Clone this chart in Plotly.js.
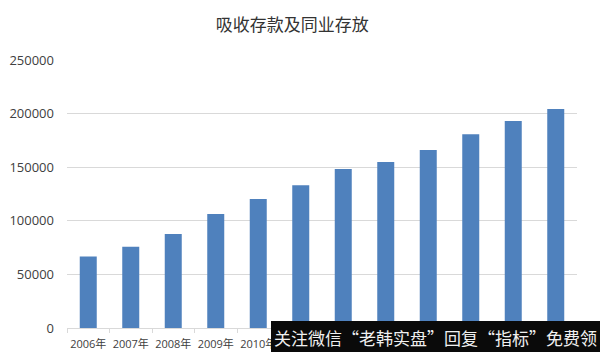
<!DOCTYPE html>
<html>
<head>
<meta charset="utf-8">
<script src="https://cdn.plot.ly/plotly-3.0.1.min.js"></script>
<style>html,body{margin:0;padding:0;background:#fff;}#chart{width:600px;height:352px;}</style>
</head>
<body>
<div id="chart"></div>
<script>
const years = ["2006年","2007年","2008年","2009年","2010年","2011年","2012年","2013年","2014年","2015年","2016年","2017年"];
const deposits = [66600, 75800, 87700, 106300, 120300, 133100, 148300, 154900, 166000, 180700, 193100, 204300];
const yTicks = [0, 50000, 100000, 150000, 200000, 250000];
const titleText = "吸收存款及同业存放";
const watermarkText = "关注微信“老韩实盘”回复“指标”免费领";

const trace = {
  type: "bar",
  x: years,
  y: deposits,
  marker: {color: "#4f81bd"},
  hoverinfo: "x+y"
};

const layout = {
  width: 600, height: 352,
  margin: {l: 67, r: 23, t: 60, b: 24},
  paper_bgcolor: "#ffffff",
  plot_bgcolor: "#ffffff",
  showlegend: false,
  bargap: 0.6,
  title: {
    text: titleText,
    font: {family: "Noto Sans CJK SC", size: 17, color: "#333333"},
    xref: "container", x: 0.487, xanchor: "center",
    yref: "container", y: 0.929, yanchor: "middle"
  },
  xaxis: {
    type: "category",
    automargin: false,
    showgrid: false,
    showline: true, linecolor: "#d9d9d9", linewidth: 1,
    ticks: "outside", tickson: "boundaries", ticklen: 4, tickcolor: "#d9d9d9",
    tickangle: 0,
    ticklabelstandoff: 6,
    tickfont: {family: "Open Sans, Noto Sans CJK SC", size: 11, color: "#404040"}
  },
  yaxis: {
    range: [0, 250000],
    automargin: false,
    tickvals: yTicks,
    ticktext: yTicks.map(String),
    showgrid: true, gridcolor: "#d9d9d9", gridwidth: 1,
    zeroline: false, showline: false, ticks: "",
    ticklabelstandoff: 12,
    tickfont: {family: "Open Sans, Liberation Sans", size: 13, color: "#404040"}
  },
  shapes: [{
    type: "rect", xref: "paper", yref: "paper", layer: "above",
    x0: 0.4, x1: 1.06, y0: -0.1, y1: 0.026,
    fillcolor: "#0a0a0a", line: {width: 0}
  }],
  annotations: [{
    text: watermarkText, xref: "paper", yref: "paper",
    x: 0.7225, y: -0.034, xanchor: "center", yanchor: "middle",
    showarrow: false,
    font: {family: "Noto Sans CJK SC", size: 17, color: "#f0f0f0"}
  }]
};

Plotly.newPlot("chart", [trace], layout, {displayModeBar: false, staticPlot: true});
</script>
</body>
</html>
